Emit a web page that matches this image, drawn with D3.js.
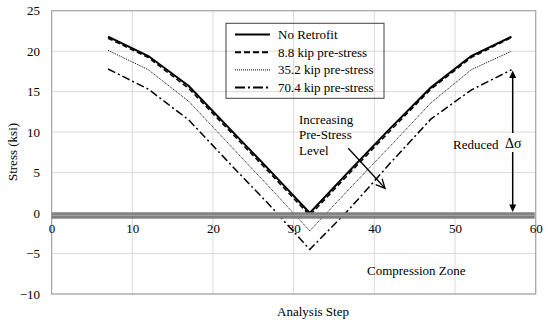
<!DOCTYPE html>
<html><head><meta charset="utf-8">
<script src="https://cdn.jsdelivr.net/npm/d3@7/dist/d3.min.js"></script>
<style>body{margin:0;background:#fff}svg{display:block}text{font-family:"Liberation Serif","Times New Roman",serif;fill:#000}</style>
</head><body>
<script>
const steps = [7, 12, 17, 22, 27, 32, 37, 42, 47, 52, 57];
const noRetrofit = [21.8, 19.4, 15.7, 10.5, 5.3, 0.0, 5.3, 10.5, 15.5, 19.4, 21.8];
const kip8_8 = [21.6, 19.2, 15.4, 10.2, 5.0, -0.3, 5.0, 10.2, 15.3, 19.2, 21.7];
const kip35_2 = [20.1, 17.7, 13.8, 8.5, 3.2, -2.2, 3.1, 8.3, 13.6, 17.7, 20.0];
const kip70_4 = [17.8, 15.3, 11.5, 6.2, 1.0, -4.5, 0.6, 6.2, 11.6, 15.2, 17.7];
const seriesNames = ["No Retrofit", "8.8 kip pre-stress", "35.2 kip pre-stress", "70.4 kip pre-stress"];
const xTicks = [0, 10, 20, 30, 40, 50, 60];
const yTicks = [-10, -5, 0, 5, 10, 15, 20, 25];

const W = 550, H = 322;
const svg = d3.select("body").append("svg").attr("width", W).attr("height", H);
const x = d3.scaleLinear().domain([0, 60]).range([51.6, 535.7]);
const y = d3.scaleLinear().domain([-10, 25]).range([294, 10.7]);

// gridlines
svg.append("g").selectAll("line.v").data(xTicks).join("line")
  .attr("x1", d => x(d)).attr("x2", d => x(d)).attr("y1", y(25)).attr("y2", y(-10))
  .attr("stroke", "#d9d9d9").attr("stroke-width", 1);
svg.append("g").selectAll("line.h").data(yTicks).join("line")
  .attr("x1", x(0)).attr("x2", x(60)).attr("y1", d => y(d)).attr("y2", d => y(d))
  .attr("stroke", "#d9d9d9").attr("stroke-width", 1);
// frame
svg.append("rect").attr("x", x(0)).attr("y", y(25)).attr("width", x(60) - x(0)).attr("height", y(-10) - y(25))
  .attr("fill", "none").attr("stroke", "#a6a6a6").attr("stroke-width", 1.2);

// series
const styles = [
  {w: 2, dash: null},
  {w: 1.5, dash: "5,3"},
  {w: 1, dash: "1,1"},
  {w: 1.5, dash: "8,3,2,3"}
];
const data = [noRetrofit, kip8_8, kip35_2, kip70_4];
const line = d3.line().x((d, i) => x(steps[i])).y(d => y(d));
data.forEach((vals, k) => {
  svg.append("path").attr("d", line(vals)).attr("fill", "none").attr("stroke", "#000")
    .attr("stroke-width", styles[k].w).attr("stroke-dasharray", styles[k].dash);
});

// thick gray band around zero
svg.append("rect").attr("x", x(0)).attr("y", 212.3).attr("width", x(60) - x(0) - 1).attr("height", 6.4).attr("fill", "#7f7f7f");
svg.append("line").attr("x1", x(0)).attr("x2", x(60) - 1).attr("y1", 215.3).attr("y2", 215.3).attr("stroke", "#a8a8a8").attr("stroke-width", 1);

// axes labels
const ax = d3.axisBottom(x).tickValues(xTicks).tickSize(0).tickPadding(0);
const gx = svg.append("g").attr("transform", "translate(0,224)").call(ax);
gx.select(".domain").remove();
gx.selectAll("text").attr("font-family", "Liberation Serif").attr("font-size", 13).attr("fill", "#000");
const ay = d3.axisLeft(y).tickValues(yTicks).tickSize(0).tickPadding(0);
const gy = svg.append("g").attr("transform", "translate(40,0)").call(ay);
gy.select(".domain").remove();
gy.selectAll("text").attr("font-family", "Liberation Serif").attr("font-size", 13).attr("fill", "#000");

svg.append("text").attr("transform", "translate(17,152) rotate(-90)").attr("text-anchor", "middle")
  .attr("font-size", 13).text("Stress (ksi)");
svg.append("text").attr("x", 313).attr("y", 316).attr("text-anchor", "middle").attr("font-size", 13).text("Analysis  Step");

// legend
svg.append("rect").attr("x", 226).attr("y", 23.3).attr("width", 158).attr("height", 75)
  .attr("fill", "none").attr("stroke", "#404040").attr("stroke-width", 1);
const legDash = [null, "6,3", "1,1", "10,3,2,3"];
seriesNames.forEach((n, i) => {
  const yy = 34.5 + i * 17.7;
  svg.append("line").attr("x1", 235).attr("x2", 270).attr("y1", yy).attr("y2", yy)
    .attr("stroke", "#000").attr("stroke-width", i === 2 ? 1 : 2).attr("stroke-dasharray", legDash[i]);
  svg.append("text").attr("x", 278).attr("y", yy + 4.5).attr("font-size", 13).text(n);
});

// annotation: Increasing Pre-Stress Level
["Increasing", "Pre-Stress", "Level"].forEach((t, i) => {
  svg.append("text").attr("x", 299).attr("y", 123.5 + i * 15.8).attr("font-size", 13).text(t);
});
svg.append("line").attr("x1", 348.3).attr("y1", 148.3).attr("x2", 385).attr("y2", 188.3)
  .attr("stroke", "#000").attr("stroke-width", 1.3);
{
  const ang = Math.atan2(188.3 - 148.3, 385 - 348.3);
  const L = 10, a = 0.45;
  const p = (s) => [385 - L * Math.cos(ang + s), 188.3 - L * Math.sin(ang + s)];
  const p1 = p(a), p2 = p(-a);
  svg.append("path").attr("d", `M${p1[0]},${p1[1]}L385,188.3L${p2[0]},${p2[1]}`)
    .attr("fill", "none").attr("stroke", "#000").attr("stroke-width", 1.3);
}

// Reduced delta sigma arrow
const ax0 = 512.7;
svg.append("line").attr("x1", ax0).attr("x2", ax0).attr("y1", 76).attr("y2", 206).attr("stroke", "#000").attr("stroke-width", 1.5);
svg.append("path").attr("d", `M${ax0},70.5L${ax0 - 3.5},78L${ax0 + 3.5},78Z`).attr("fill", "#000");
svg.append("path").attr("d", `M${ax0},212L${ax0 - 3.5},204.5L${ax0 + 3.5},204.5Z`).attr("fill", "#000");
svg.append("rect").attr("x", 503).attr("y", 133).attr("width", 26).attr("height", 19).attr("fill", "#fff");
svg.append("text").attr("x", 453).attr("y", 149).attr("font-size", 13).text("Reduced");
svg.append("text").attr("x", 505).attr("y", 148).attr("font-size", 14).attr("font-family", "DejaVu Serif, Liberation Serif").text("Δσ");

svg.append("text").attr("x", 367).attr("y", 274.5).attr("font-size", 13).text("Compression Zone");
</script>
</body></html>
